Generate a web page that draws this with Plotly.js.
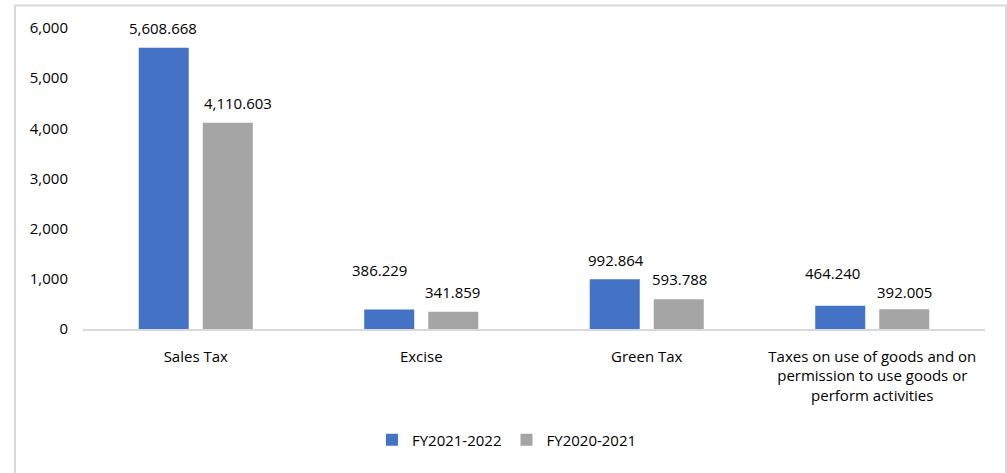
<!DOCTYPE html>
<html>
<head>
<meta charset="utf-8">
<script src="https://cdn.plot.ly/plotly-3.0.1.min.js"></script>
<style>html,body{margin:0;padding:0;background:#fff;}#chart{width:1007px;height:473px;}</style>
</head>
<body>
<div id="chart"></div>
<script>
const categories = ["Sales Tax", "Excise", "Green Tax", "Taxes on use of goods and on<br>permission to use goods or<br>perform activities"];
const seriesNames = ["FY2021-2022", "FY2020-2021"];
const fy2122 = [5608.668, 386.229, 992.864, 464.240];
const fy2021 = [4110.603, 341.859, 593.788, 392.005];
const yTicks = [0, 1000, 2000, 3000, 4000, 5000, 6000];

const fmt = v => v.toLocaleString('en-US', {minimumFractionDigits: 3, maximumFractionDigits: 3});
const font = {family: "Open Sans, Liberation Sans, sans-serif", size: 15, color: "#000000"};

const traces = [
  {type: "bar", name: seriesNames[0], x: categories, y: fy2122, marker: {color: "#4472C4"}, hoverinfo: "y"},
  {type: "bar", name: seriesNames[1], x: categories, y: fy2021, marker: {color: "#A5A5A5"}, hoverinfo: "y"}
];

// label placement (pixel nudges relative to each bar's centre/top), per series
const barShift = [-32, 32];
const labelNudge = [
  [[-1, 20], [-10, 40], [1, 19], [-8, 33]],
  [[10, 20], [-1, 20], [1, 20], [0, 17]]
];

const annotations = [];
[fy2122, fy2021].forEach((vals, s) => {
  vals.forEach((v, i) => {
    annotations.push({x: categories[i], y: v, xref: "x", yref: "y", text: fmt(v), showarrow: false,
      xshift: barShift[s] + labelNudge[s][i][0], yanchor: "middle", yshift: labelNudge[s][i][1], font: font});
  });
});

const layout = {
  width: 1007, height: 473,
  margin: {l: 83, r: 22, t: 28, b: 144},
  paper_bgcolor: "#fff", plot_bgcolor: "#fff",
  font: font,
  barmode: "group", bargap: 0.432, bargroupgap: 0.219,
  showlegend: true,
  legend: {orientation: "h", x: 0.47, xanchor: "center", y: -0.369, yanchor: "middle", font: font},
  xaxis: {type: "category", showline: true, linecolor: "#d9d9d9", linewidth: 1.5, ticks: "", showgrid: false,
    zeroline: false, ticklabelstandoff: 13, tickfont: font, fixedrange: true},
  yaxis: {range: [0, 6000], tickvals: yTicks, tickformat: ",", showgrid: false, zeroline: false, showline: false,
    ticks: "", ticklabelstandoff: 14, tickfont: font, fixedrange: true},
  annotations: annotations,
  shapes: [{type: "rect", xref: "paper", yref: "paper", x0: -0.0754, x1: 1.0233, y0: -0.6, y1: 1.0748,
    line: {color: "#d9d9d9", width: 2}, fillcolor: "rgba(0,0,0,0)", layer: "below"}]
};

Plotly.newPlot("chart", traces, layout, {displayModeBar: false, staticPlot: true});
</script>
</body>
</html>
